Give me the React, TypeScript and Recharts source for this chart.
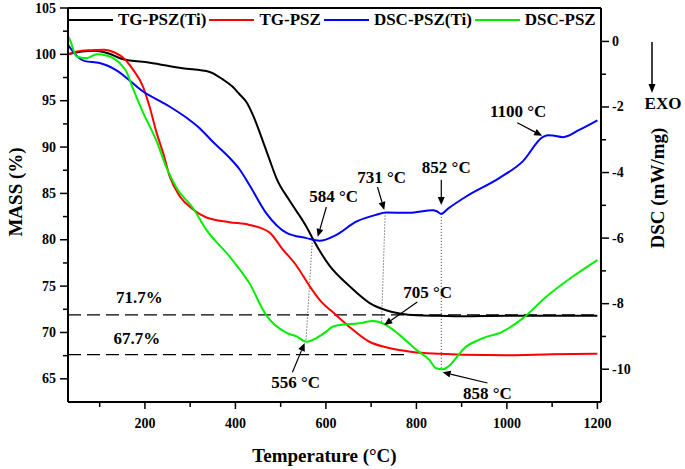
import { LineChart, Line, XAxis, YAxis, ReferenceLine, ReferenceDot, Legend } from 'recharts';

const FONT = '"Liberation Serif", "Times New Roman", serif';

// TG-PSZ(Ti) mass (%)
const tgTiTemp = [30, 60, 90, 120, 150, 211, 283, 343, 372, 394, 409, 425, 440, 458, 475, 491, 520, 557, 570, 608, 652, 696, 733, 763, 800, 850, 900, 1000, 1100, 1200];
const tgTiMass = [100, 100.3, 100.4, 100.1, 99.5, 99.1, 98.5, 98.1, 97.3, 96.5, 95.7, 94.8, 93.3, 91.0, 88.7, 86.6, 84.2, 81.4, 80.2, 77.2, 75.0, 73.2, 72.4, 72.05, 71.85, 71.8, 71.75, 71.8, 71.8, 71.8];

// TG-PSZ mass (%)
const tgTemp = [30, 50, 80, 110, 133, 155, 173, 195, 210, 226, 240, 255, 277, 306, 336, 387, 431, 475, 504, 535, 564, 590, 615, 652, 696, 733, 791, 850, 900, 1000, 1100, 1200];
const tgMass = [100, 100.3, 100.45, 100.5, 100.2, 99.5, 98.4, 96.6, 94.4, 91.5, 89.4, 86.8, 84.7, 83.3, 82.4, 81.9, 81.6, 80.8, 79.0, 77.2, 75.0, 73.3, 72.2, 70.6, 69.0, 68.4, 67.9, 67.7, 67.6, 67.55, 67.65, 67.7];

// DSC-PSZ(Ti) (mW/mg)
const dscTiTemp = [30, 50, 67, 100, 137, 195, 250, 292, 321, 350, 387, 409, 431, 468, 513, 557, 586, 623, 667, 711, 733, 784, 836, 845, 855, 870, 910, 983, 1035, 1079, 1090, 1101, 1124, 1160, 1200];
const dscTiVal = [-0.1, -0.45, -0.6, -0.66, -0.88, -1.52, -1.95, -2.33, -2.65, -3.06, -3.55, -3.9, -4.38, -5.24, -5.84, -6.0, -6.08, -5.9, -5.5, -5.29, -5.22, -5.23, -5.15, -5.18, -5.26, -5.1, -4.73, -4.17, -3.66, -2.92, -2.86, -2.87, -2.92, -2.7, -2.41];

// DSC-PSZ (mW/mg)
const dscTemp = [30, 34, 49, 71, 94, 115, 144, 159, 173, 195, 226, 248, 270, 306, 336, 387, 431, 468, 513, 534, 557, 579, 601, 615, 630, 674, 704, 729, 763, 800, 829, 843, 858, 865, 910, 946, 991, 1035, 1087, 1145, 1200];
const dscVal = [0.15, 0.05, -0.46, -0.51, -0.39, -0.43, -0.66, -0.92, -1.42, -2.14, -3.05, -3.86, -4.47, -5.08, -5.75, -6.56, -7.38, -8.35, -8.89, -8.99, -9.16, -9.05, -8.85, -8.7, -8.65, -8.6, -8.53, -8.62, -8.96, -9.41, -9.72, -9.97, -10.0, -9.97, -9.31, -9.06, -8.85, -8.45, -7.79, -7.18, -6.67];

const seriesNames = ['TG-PSZ(Ti)', 'TG-PSZ', 'DSC-PSZ(Ti)', 'DSC-PSZ'];
const seriesColors = ['#000000', '#ff0000', '#0000ff', '#00ee00'];

const xTicks = [100, 200, 300, 400, 500, 600, 700, 800, 900, 1000, 1100, 1200];
const massTicks = [65, 67.5, 70, 72.5, 75, 77.5, 80, 82.5, 85, 87.5, 90, 92.5, 95, 97.5, 100, 102.5, 105];
const dscTicks = [0, -1, -2, -3, -4, -5, -6, -7, -8, -9, -10];

// residual mass levels
const residualMass = [71.9, 67.6];
const residualText = ['71.7%', '67.7%'];

// peak annotations: text anchor, arrow tail, arrow tip (DSC axis units)
const peakText = ['584 °C', '731 °C', '852 °C', '1100 °C', '705 °C', '556 °C', '858 °C'];
const peakTextAt = [[617, -4.74], [723, -4.16], [866, -3.86], [1025, -2.15], [825, -7.67], [533, -10.42], [957, -10.73]];
const peakFrom = [[601, -5.05], [714, -4.44], [855, -4.22], [1023, -2.48], [802, -7.95], [526, -10.09], [957, -10.42]];
const peakTo = [[582, -5.96], [729, -5.14], [855, -4.99], [1078, -2.88], [729, -8.65], [553, -9.2], [858, -10.09]];

// dotted guides between DSC-PSZ(Ti) and DSC-PSZ peaks
const guideTop = [[570, -6.05], [731, -5.22], [855, -5.26]];
const guideBottom = [[556, -9.14], [723, -8.56], [855, -9.97]];

const toPts = (xs: number[], ys: number[]) => xs.map((t, i) => ({ t, v: ys[i] }));
const series = [
    { data: toPts(tgTiTemp, tgTiMass), axis: 'left' },
    { data: toPts(tgTemp, tgMass), axis: 'left' },
    { data: toPts(dscTiTemp, dscTiVal), axis: 'right' },
    { data: toPts(dscTemp, dscVal), axis: 'right' },
];

const textStyle = { fontFamily: FONT, fontWeight: 'bold' as const, fill: '#000' };

const XTick = ({ x, y, payload }: any) => {
    const major = payload.value % 200 === 0;
    return (
        <g>
            <line x1={x} x2={x} y1={y} y2={y + (major ? 7 : 5)} stroke="#000" strokeWidth={1.5} />
            {major && (
                <text x={x} y={y + 21} textAnchor="middle" dominantBaseline="central" fontSize={14} {...textStyle}>
                    {payload.value}
                </text>
            )}
        </g>
    );
};

const LeftTick = ({ x, y, payload }: any) => {
    const major = payload.value % 5 === 0;
    return (
        <g>
            <line x1={x} x2={x - (major ? 8 : 5)} y1={y} y2={y} stroke="#000" strokeWidth={1.5} />
            {major && (
                <text x={x - 12} y={y} textAnchor="end" dominantBaseline="central" fontSize={14} {...textStyle}>
                    {payload.value}
                </text>
            )}
        </g>
    );
};

const RightTick = ({ x, y, payload }: any) => {
    const major = payload.value % 2 === 0;
    return (
        <g>
            <line x1={x} x2={x + (major ? 8 : 5)} y1={y} y2={y} stroke="#000" strokeWidth={1.5} />
            {major && (
                <text x={x + 11} y={y} textAnchor="start" dominantBaseline="central" fontSize={14} {...textStyle}>
                    {payload.value}
                </text>
            )}
        </g>
    );
};

const arrowShape = (p: any) => {
    const { x1, y1, x2, y2 } = p;
    const a = Math.atan2(y2 - y1, x2 - x1);
    const len = 8;
    const w = 3.5;
    const bx = x2 - len * Math.cos(a);
    const by = y2 - len * Math.sin(a);
    const nx = -Math.sin(a) * w;
    const ny = Math.cos(a) * w;
    return (
        <g>
            <line x1={x1} y1={y1} x2={bx} y2={by} stroke="#000" strokeWidth={1.2} />
            <polygon points={`${x2},${y2} ${bx + nx},${by + ny} ${bx - nx},${by - ny}`} fill="#000" />
        </g>
    );
};

const textDot = (value: string) => (p: any) => (
    <text x={p.cx} y={p.cy} textAnchor="middle" dominantBaseline="central" fontSize={17} {...textStyle}>
        {value}
    </text>
);

const LegendContent = () => (
    <div style={{ display: 'flex', alignItems: 'center', fontFamily: FONT, fontWeight: 'bold', fontSize: 17, lineHeight: '20px' }}>
        {seriesNames.map((name, i) => (
            <div key={name} style={{ display: 'flex', alignItems: 'center', marginRight: 3 }}>
                <span style={{ display: 'inline-block', width: 45, height: 2, background: seriesColors[i], marginRight: 5 }} />
                <span>{name}</span>
            </div>
        ))}
    </div>
);

export default function App() {
    return (
        <div style={{ position: 'absolute', left: 0, top: 0, width: 685, height: 469, background: '#fff' }}>
            <LineChart width={685} height={469} margin={{ top: 8, right: 0, left: 0, bottom: 0 }}>
                <XAxis
                    dataKey="t"
                    type="number"
                    domain={[30, 1208]}
                    ticks={xTicks}
                    interval={0}
                    allowDataOverflow
                    height={67}
                    tickSize={0}
                    tickMargin={0}
                    tickLine={false}
                    tick={<XTick />}
                    axisLine={{ stroke: '#000', strokeWidth: 2 }}
                    label={(p: any) => {
                        const vb = p.viewBox;
                        return (
                            <text x={vb.x + vb.width / 2 - 10} y={vb.y + 53} textAnchor="middle" dominantBaseline="central" fontSize={19} {...textStyle}>
                                Temperature (°C)
                            </text>
                        );
                    }}
                />
                <YAxis
                    yAxisId="left"
                    type="number"
                    domain={[62.5, 105]}
                    ticks={massTicks}
                    interval={0}
                    allowDataOverflow
                    width={68}
                    tickSize={0}
                    tickMargin={0}
                    tickLine={false}
                    tick={<LeftTick />}
                    axisLine={{ stroke: '#000', strokeWidth: 2 }}
                    label={(p: any) => {
                        const vb = p.viewBox;
                        const cx = vb.x + 15;
                        const cy = 192;
                        return (
                            <text x={cx} y={cy} transform={`rotate(-90, ${cx}, ${cy})`} textAnchor="middle" dominantBaseline="central" fontSize={19} {...textStyle}>
                                MASS (%)
                            </text>
                        );
                    }}
                />
                <YAxis
                    yAxisId="right"
                    orientation="right"
                    type="number"
                    domain={[-11, 1.02]}
                    ticks={dscTicks}
                    interval={0}
                    allowDataOverflow
                    width={84}
                    tickSize={0}
                    tickMargin={0}
                    tickLine={false}
                    tick={<RightTick />}
                    axisLine={{ stroke: '#000', strokeWidth: 2 }}
                    label={(p: any) => {
                        const vb = p.viewBox;
                        const cx = vb.x + 56;
                        const cy = 188;
                        const ax = vb.x + 51;
                        return (
                            <g>
                                <text x={cx} y={cy} transform={`rotate(-90, ${cx}, ${cy})`} textAnchor="middle" dominantBaseline="central" fontSize={19} {...textStyle}>
                                    DSC (mW/mg)
                                </text>
                                <line x1={ax} x2={ax} y1={42} y2={85} stroke="#000" strokeWidth={1.5} />
                                <polygon points={`${ax},${93} ${ax - 3.5},${84} ${ax + 3.5},${84}`} fill="#000" />
                                <text x={vb.x + 62} y={103} textAnchor="middle" dominantBaseline="central" fontSize={17} {...textStyle}>
                                    EXO
                                </text>
                            </g>
                        );
                    }}
                />
                <Legend
                    verticalAlign="top"
                    align="left"
                    content={<LegendContent />}
                    wrapperStyle={{ position: 'absolute', top: 10, left: 68, width: 540, height: 0, overflow: 'visible' }}
                />
                {/* top frame */}
                <ReferenceLine yAxisId="left" y={105} stroke="#000" strokeWidth={2} />
                <ReferenceLine yAxisId="left" y={residualMass[0]} stroke="#000" strokeWidth={1.2} strokeDasharray="13 6" />
                <ReferenceLine
                    yAxisId="left"
                    segment={[{ x: 30, y: residualMass[1] }, { x: 780, y: residualMass[1] }]}
                    stroke="#000"
                    strokeWidth={1.2}
                    strokeDasharray="13 6"
                />
                <ReferenceDot yAxisId="left" x={188} y={73.8} r={0} shape={textDot(residualText[0])} />
                <ReferenceDot yAxisId="left" x={182} y={69.3} r={0} shape={textDot(residualText[1])} />
                {guideTop.map((g, i) => (
                    <ReferenceLine
                        key={`guide-${i}`}
                        yAxisId="right"
                        segment={[{ x: g[0], y: g[1] }, { x: guideBottom[i][0], y: guideBottom[i][1] }]}
                        stroke="#000"
                        strokeWidth={0.8}
                        strokeDasharray="1 2"
                    />
                ))}
                {series.map((s, i) => (
                    <Line
                        key={seriesNames[i]}
                        data={s.data}
                        dataKey="v"
                        name={seriesNames[i]}
                        yAxisId={s.axis}
                        type="monotone"
                        dot={false}
                        stroke={seriesColors[i]}
                        strokeWidth={2}
                        isAnimationActive={false}
                    />
                ))}
                {peakText.map((t, i) => (
                    <ReferenceLine
                        key={`arrow-${i}`}
                        yAxisId="right"
                        segment={[{ x: peakFrom[i][0], y: peakFrom[i][1] }, { x: peakTo[i][0], y: peakTo[i][1] }]}
                        shape={arrowShape}
                    />
                ))}
                {peakText.map((t, i) => (
                    <ReferenceDot key={`label-${i}`} yAxisId="right" x={peakTextAt[i][0]} y={peakTextAt[i][1]} r={0} shape={textDot(t)} />
                ))}
            </LineChart>
        </div>
    );
}
